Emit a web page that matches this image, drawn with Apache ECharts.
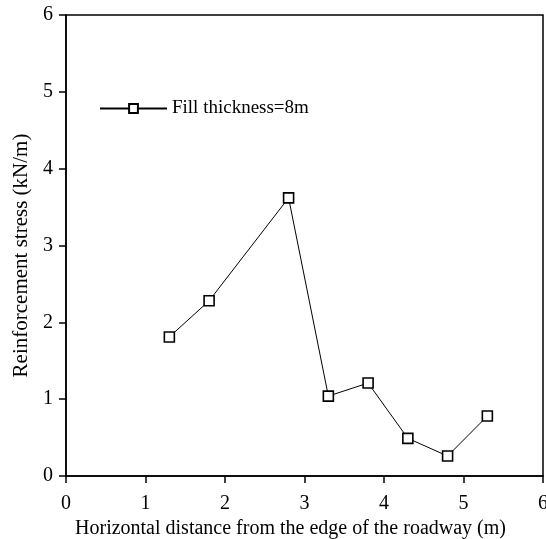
<!DOCTYPE html>
<html>
<head>
<meta charset="utf-8">
<script src="https://cdn.jsdelivr.net/npm/echarts@6/dist/echarts.min.js"></script>
<style>
  html, body { margin: 0; padding: 0; background: #fff; overflow: hidden; }
  #chart { width: 546px; height: 539px; }
</style>
</head>
<body>
<div id="chart"></div>
<script>
// Horizontal distance from the roadway edge (m)
const distances = [1.3, 1.8, 2.8, 3.3, 3.8, 4.3, 4.8, 5.3];
// Reinforcement stress (kN/m) at fill thickness 8 m
const stress = [1.81, 2.28, 3.62, 1.04, 1.21, 0.49, 0.26, 0.78];
const seriesName = 'Fill thickness=8m';
const xTitle = 'Horizontal distance from the edge of the roadway (m)';
const yTitle = 'Reinforcement stress (kN/m)';

const font = '"Liberation Serif", "DejaVu Serif", serif';
const chart = echarts.init(document.getElementById('chart'), null, { renderer: 'canvas' });

chart.setOption({
  animation: false,
  backgroundColor: '#fff',
  textStyle: { fontFamily: font, color: '#000' },
  grid: {
    left: 66, right: 3, top: 15, bottom: 63,
    show: true, borderColor: '#000', borderWidth: 1.5,
    containLabel: false,
    outerBoundsMode: 'none'
  },
  legend: {
    show: true,
    left: 99, top: 99,
    padding: 0,
    itemWidth: 67, itemHeight: 11,
    itemGap: 6,
    textStyle: { fontFamily: font, fontSize: 19, color: '#000' },
    data: [{ name: seriesName }]
  },
  xAxis: {
    type: 'value',
    min: 0, max: 6, interval: 1,
    name: xTitle,
    nameLocation: 'middle',
    nameGap: 36,
    nameTextStyle: { fontFamily: font, fontSize: 20, color: '#000', padding: [0, 28, 0, 0] },
    axisLine: { show: true, onZero: false, lineStyle: { color: '#000', width: 1.5 } },
    axisTick: { show: true, inside: false, length: 7, lineStyle: { color: '#000', width: 1.5 } },
    axisLabel: { fontFamily: font, fontSize: 20, color: '#000', margin: 18 },
    splitLine: { show: false }
  },
  yAxis: {
    type: 'value',
    min: 0, max: 6, interval: 1,
    name: yTitle,
    nameLocation: 'middle',
    nameGap: 34,
    nameRotate: 90,
    nameTextStyle: { fontFamily: font, fontSize: 21, color: '#000', padding: [0, 20, 0, 0] },
    axisLine: { show: true, onZero: false, lineStyle: { color: '#000', width: 1.5 } },
    axisTick: { show: true, inside: false, length: 7, lineStyle: { color: '#000', width: 1.5 } },
    axisLabel: { fontFamily: font, fontSize: 20, color: '#000', margin: 13 },
    splitLine: { show: false }
  },
  series: [{
    name: seriesName,
    type: 'line',
    data: distances.map((d, i) => [d, stress[i]]),
    symbol: 'rect',
    symbolSize: 10,
    showAllSymbol: true,
    lineStyle: { color: '#000', width: 1 },
    itemStyle: { color: '#fff', borderColor: '#000', borderWidth: 1.6 },
    z: 3
  }]
});
</script>
</body>
</html>
